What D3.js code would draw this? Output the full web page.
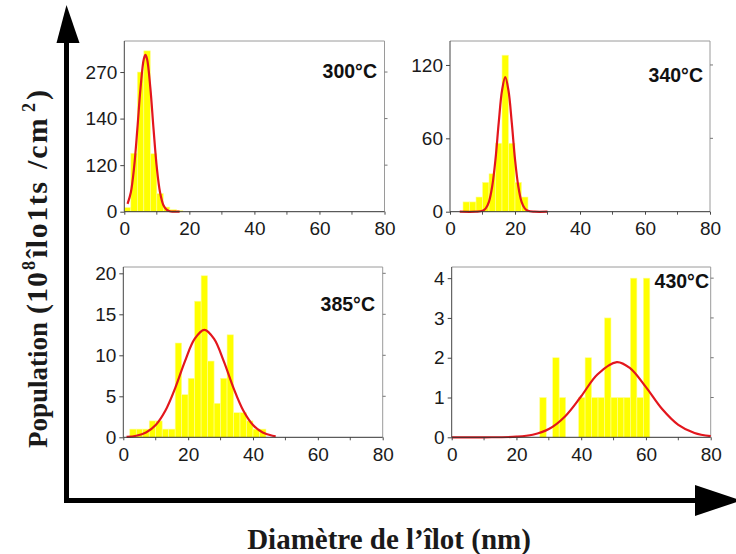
<!DOCTYPE html>
<html>
<head>
<meta charset="utf-8">
<script src="https://cdn.jsdelivr.net/npm/d3@7"></script>
<style>
  body { margin: 0; background: #fff; }
  svg { display: block; }
</style>
</head>
<body>
<script>
// Histogram bins are 2 nm wide; each list holds the left edge of every bin.
const binWidth = 2;

// 300 °C
const bins300 = [0, 2, 4, 6, 8, 10, 12, 14, 16];
const counts300 = [8, 113, 270, 311, 112, 35, 9, 4, 2];
const fitX300 = [1, 2, 3, 4, 5, 6, 6.5, 7, 8, 9, 10, 11, 12, 13, 14, 15, 17];
const fitY300 = [15, 37, 85, 159, 240, 295, 303, 295, 240, 159, 85, 37, 13, 3.9, 0.9, 0.2, 0];
const yTicks300 = [0, 90, 180, 270];
const yTickLabels300 = ["0", "120", "140", "270"];

// 340 °C
const bins340 = [4, 6, 8, 10, 12, 14, 16, 18, 20, 22];
const counts340 = [8, 8, 12, 24, 31, 56, 128, 56, 24, 12];
const fitX340 = [3, 8, 10, 11, 12, 13, 14, 15, 16, 17, 18, 19, 20, 21, 22, 23, 24, 26, 30];
const fitY340 = [0, 0, 0.7, 2.7, 8.3, 21, 43, 73, 99, 110, 99, 73, 43, 21, 8.3, 2.7, 0.7, 0, 0];
const yTicks340 = [0, 60, 120];

// 385 °C
const bins385 = [2, 4, 6, 8, 10, 12, 14, 16, 18, 20, 22, 24, 26, 28, 30, 32, 34, 36, 38, 40, 42];
const counts385 = [1, 1, 1, 2, 2, 1, 1, 11.5, 5.2, 7.2, 16.6, 19.7, 9.3, 4.15, 7.2, 12.5, 3, 3, 2, 1, 1];
const fitX385 = [1, 4, 7, 10, 13, 16, 19, 22, 25, 28, 31, 34, 37, 40, 43, 46, 47];
const fitY385 = [0.05, 0.19, 0.58, 1.5, 3.27, 6.0, 9.26, 12.0, 13.1, 12.0, 9.26, 6.0, 3.27, 1.5, 0.58, 0.19, 0.12];
const yTicks385 = [0, 5, 10, 15, 20];

// 430 °C
const bins430 = [27.2, 31.2, 33.2, 39.2, 41.2, 43.2, 45.2, 47.2, 49.2, 51.2, 53.2, 55.2, 57.2, 59.2];
const counts430 = [1, 2, 1, 1, 2, 1, 1, 3, 1, 1, 1, 4, 1, 4];
const fitX430 = [0, 10, 20, 25, 30, 35, 40, 45, 51, 55, 60, 65, 70, 75, 80];
const fitY430 = [0, 0, 0.015, 0.064, 0.208, 0.525, 1.032, 1.579, 1.89, 1.745, 1.261, 0.709, 0.311, 0.106, 0.028];
const yTicks430 = [0, 1, 2, 3, 4];

const xTicks = [0, 20, 40, 60, 80];
const xMinorTicks = [10, 30, 50, 70];
const temperatures = ["300°C", "340°C", "385°C", "430°C"];
const xAxisTitle = "Diamètre de l’îlot (nm)";

const W = 736, H = 554;
const svg = d3.select("body").append("svg").attr("width", W).attr("height", H);

const panels = [
  { bins: bins300, counts: counts300, fx: fitX300, fy: fitY300, yTicks: yTicks300, yLabels: yTickLabels300,
    yMax: 330, box: { l: 124.3, r: 384.5, t: 41, b: 211.7 }, title: temperatures[0], tx: 377, ty: 78 },
  { bins: bins340, counts: counts340, fx: fitX340, fy: fitY340, yTicks: yTicks340, yLabels: null,
    yMax: 139.6, box: { l: 450, r: 710, t: 41, b: 211.7 }, title: temperatures[1], tx: 703, ty: 82 },
  { bins: bins385, counts: counts385, fx: fitX385, fy: fitY385, yTicks: yTicks385, yLabels: null,
    yMax: 20.77, box: { l: 123.3, r: 382.7, t: 267, b: 437.3 }, title: temperatures[2], tx: 375, ty: 311 },
  { bins: bins430, counts: counts430, fx: fitX430, fy: fitY430, yTicks: yTicks430, yLabels: null,
    yMax: 4.28, box: { l: 451.7, r: 710.7, t: 267, b: 437.3 }, title: temperatures[3], tx: 709, ty: 288 }
];

const tickFont = "'Liberation Sans', Arial, sans-serif";

panels.forEach(p => {
  const x = d3.scaleLinear().domain([0, 80]).range([p.box.l, p.box.r]);
  const y = d3.scaleLinear().domain([0, p.yMax]).range([p.box.b, p.box.t]);
  const g = svg.append("g");

  // frame: light top and right edges
  g.append("path")
    .attr("d", `M${p.box.l},${p.box.t}H${p.box.r}V${p.box.b}`)
    .attr("fill", "none").attr("stroke", "#9a9a9a").attr("stroke-width", 1);

  // histogram bars
  g.selectAll("rect.bar").data(p.bins.map((b, i) => ({ x0: b, v: p.counts[i] })))
    .join("rect").attr("class", "bar")
    .attr("x", d => x(d.x0))
    .attr("width", d => x(d.x0 + binWidth) - x(d.x0))
    .attr("y", d => y(d.v))
    .attr("height", d => y(0) - y(d.v))
    .attr("fill", "#ffff00")
    .attr("stroke", "#fdfd9a").attr("stroke-width", 0.6);

  // fitted distribution curve
  const line = d3.line().x(d => x(d[0])).y(d => y(d[1])).curve(d3.curveCatmullRom.alpha(0.5));
  g.append("path")
    .datum(p.fx.map((v, i) => [v, p.fy[i]]))
    .attr("d", line)
    .attr("fill", "none").attr("stroke", "#e3161d").attr("stroke-width", 2.2);

  // right-side tick marks
  g.selectAll("line.rt").data(p.yTicks.filter(v => v > 0)).join("line")
    .attr("x1", p.box.r).attr("x2", p.box.r + 3)
    .attr("y1", d => y(d)).attr("y2", d => y(d))
    .attr("stroke", "#777");

  // minor x ticks
  g.selectAll("line.mx").data(xMinorTicks).join("line")
    .attr("x1", d => x(d)).attr("x2", d => x(d))
    .attr("y1", p.box.b).attr("y2", p.box.b + 3)
    .attr("stroke", "#555");

  // y axis
  const yAxis = d3.axisLeft(y).tickValues(p.yTicks).tickSize(4).tickPadding(3)
    .tickFormat(p.yLabels ? (d, i) => p.yLabels[i] : d3.format("d"));
  const ya = g.append("g").attr("transform", `translate(${p.box.l},0)`).call(yAxis);
  ya.select(".domain").attr("stroke", "#444").attr("d", `M0,${p.box.t}V${p.box.b}`);
  ya.selectAll(".tick line").attr("stroke", "#444");
  ya.selectAll("text").attr("font-family", tickFont).attr("font-size", 19).attr("fill", "#1a1a1a");

  // x axis
  const xAxis = d3.axisBottom(x).tickValues(xTicks).tickSize(3).tickPadding(7);
  const xa = g.append("g").attr("transform", `translate(0,${p.box.b})`).call(xAxis);
  xa.select(".domain").attr("stroke", "#333").attr("d", `M${p.box.l},0H${p.box.r}`);
  xa.selectAll(".tick line").attr("stroke", "#444");
  xa.selectAll("text").attr("font-family", tickFont).attr("font-size", 19).attr("fill", "#1a1a1a");

  // temperature label
  g.append("text").attr("x", p.tx).attr("y", p.ty).attr("text-anchor", "end")
    .attr("font-family", tickFont).attr("font-weight", "bold").attr("font-size", 19.5)
    .attr("fill", "#111").text(p.title);
});

// big arrowed axes around the grid
const ax = svg.append("g").attr("fill", "#000").attr("stroke", "#000");
ax.append("path").attr("d", "M66.5,500.5V40 M64,500.5H697")
  .attr("fill", "none").attr("stroke-width", 5);
ax.append("path").attr("d", "M66.5,5L56.5,43H79.5Z").attr("stroke", "none");
ax.append("path").attr("d", "M695,485L741,500.5L695,516Z").attr("stroke", "none");

// axis titles
const serif = "'Liberation Serif', 'Times New Roman', serif";
svg.append("text").attr("x", 389).attr("y", 549).attr("text-anchor", "middle")
  .attr("font-family", serif).attr("font-weight", "bold").attr("font-size", 29)
  .attr("fill", "#1a1a1a").text(xAxisTitle);

// vertical title, laid out along the rotated baseline (0 = bottom end)
const yt = svg.append("text")
  .attr("transform", "translate(47,448) rotate(-90)")
  .attr("font-family", serif).attr("font-weight", "bold").attr("font-size", 27)
  .attr("fill", "#1a1a1a");
yt.append("tspan").attr("x", 0).text("Population");
yt.append("tspan").attr("x", 134).attr("font-size", 30).attr("letter-spacing", 1).text("(10");
yt.append("tspan").attr("x", 178).attr("dy", -12).attr("font-size", 18).text("8");
yt.append("tspan").attr("x", 190).attr("dy", 12).attr("font-size", 30).attr("letter-spacing", 1.5).text("îlo1ts");
yt.append("tspan").attr("x", 279).attr("font-size", 30).attr("letter-spacing", 2).text("/cm");
yt.append("tspan").attr("x", 336).attr("dy", -12).attr("font-size", 18).text("2");
yt.append("tspan").attr("x", 348).attr("dy", 12).attr("font-size", 30).text(")");
</script>
</body>
</html>
